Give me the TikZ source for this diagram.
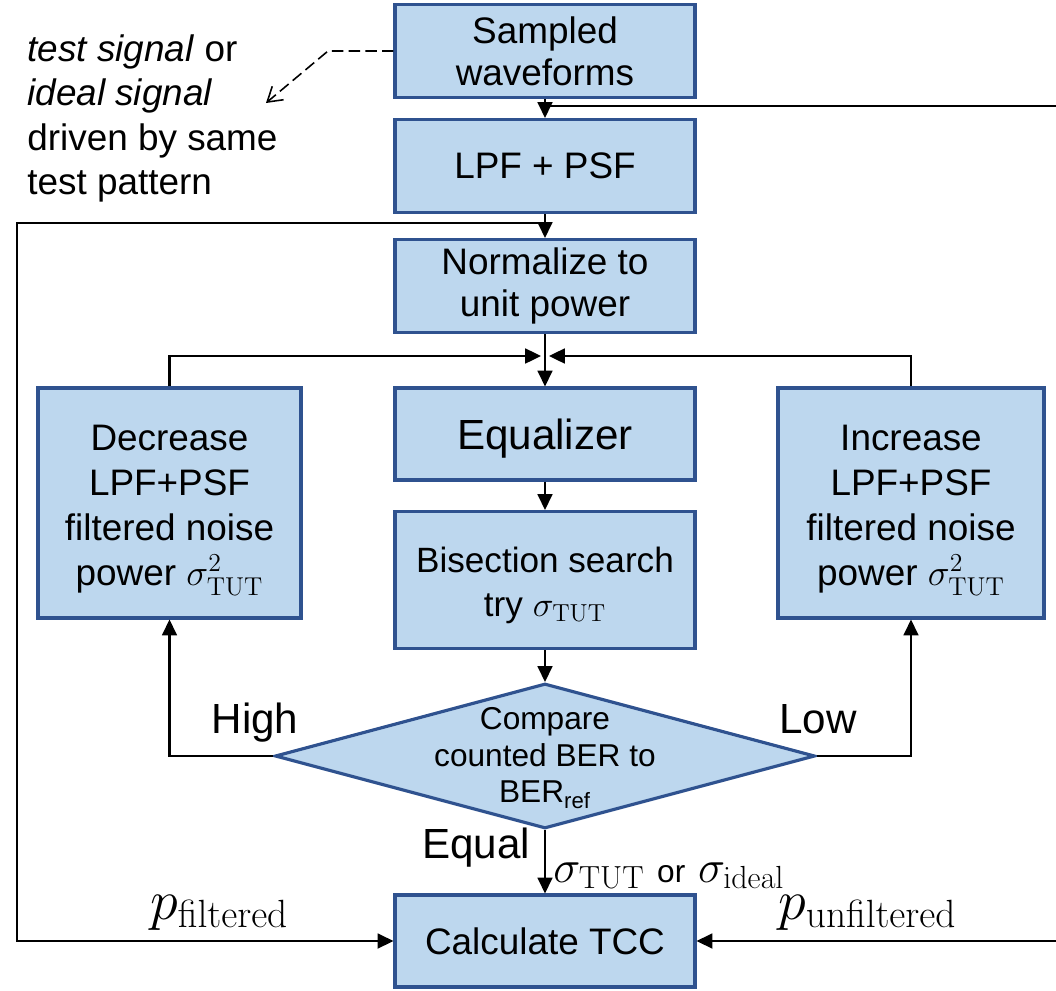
\RequirePackage{fix-cm}
\documentclass[tikz,border=0pt]{standalone}
\usepackage{amsmath}
\usepackage[no-math]{fontspec}
\setmainfont{Liberation Sans}
\usetikzlibrary{positioning,arrows.meta,shapes.geometric}
\definecolor{tccfill}{RGB}{189,215,238}
\definecolor{tccedge}{RGB}{47,82,143}

\begin{document}
\begin{tikzpicture}[x=0.02cm, y=-0.02cm,
  blk/.style={draw=tccedge, line width=1.8pt, fill=tccfill, minimum width=6cm, minimum height=1.86cm, align=center, inner sep=1pt, font=\fontsize{21}{24}\selectfont},
  conn/.style={line width=1.15pt, -{Triangle[length=9pt,width=8.5pt]}},
  lbl/.style={font=\fontsize{24}{28}\selectfont, inner sep=0pt}]
\useasboundingbox (0,0) rectangle (1056,991);

% Main column
\node[blk] (sampled) at (545,51) {Sampled\\waveforms};
\node[blk] (lpf) at (545,166) {LPF + PSF};
\node[blk] (norm) at (545,286) {Normalize to\\unit power};
\node[blk, minimum height=1.84cm, text height=24pt, text depth=5.8pt, font=\fontsize{24}{28}\selectfont] (eq) at (545,434) {Equalizer};
\node[blk, minimum height=2.74cm, font=\fontsize{20}{25}\selectfont] (bis) at (545,580) {\rule{0pt}{20.5pt}Bisection search\\try $\sigma_{\mathrm{TUT}}$};
\node[blk, diamond, aspect=3.7, minimum width=10.8cm, minimum height=2.9cm, inner sep=0pt, font=\fontsize{18}{21}\selectfont] (cmp) at (545,756)
  {\smash{\raisebox{-6pt}{\begin{tabular}{@{}c@{}}Compare\\counted BER to\\BER\textsubscript{ref}\end{tabular}}}};
\node[blk, minimum height=1.84cm] (tcc) at (545,941) {Calculate TCC};

% Side boxes
\node[blk, minimum width=5.26cm, minimum height=4.6cm, font=\fontsize{21}{25.5}\selectfont] (dec) at (169.5,503) {\rule{0pt}{23pt}Decrease\\LPF+PSF\\filtered noise\\power $\sigma^2_{\mathrm{TUT}}$};
\node[blk, minimum width=5.32cm, minimum height=4.6cm, font=\fontsize{21}{25.5}\selectfont] (inc) at (911,503) {\rule{0pt}{23pt}Increase\\LPF+PSF\\filtered noise\\power $\sigma^2_{\mathrm{TUT}}$};

% Note on the input
\node[anchor=north west, align=left, inner sep=0pt, font=\fontsize{21}{25.4}\selectfont] (note) at (27,34) {\textit{test signal} or\\\textit{ideal signal}\\driven by same\\test pattern};
\coordinate (bend) at (328,51);
\coordinate (notetip) at (266,103);
\draw[line width=0.9pt, dash pattern=on 6.5pt off 3pt, -{Straight Barb[length=8pt,width=10pt]}] (sampled.west) -- (bend) -- (notetip);

% Main path
\draw[conn] (sampled) -- (lpf);
\draw[conn] (lpf) -- (norm);
\draw[conn] (norm) -- (eq);
\draw[conn] (eq) -- (bis);
\draw[conn] (bis) -- (cmp);
\draw[conn] (cmp) -- (tcc);

% Feedback loop
\coordinate (merge) at (545,356);
\draw[conn] (dec.north) |- ([xshift=-0.08cm]merge);
\draw[conn] (inc.north) |- ([xshift=0.08cm]merge);
\draw[conn] (cmp.west) -| (dec.south);
\draw[conn] (cmp.east) -| (inc.south);

% Power taps to TCC
\coordinate (tapleft) at (545,223);
\coordinate (westrail) at (17,223);
\draw[conn] (tapleft) -- (westrail) |- (tcc.west);
\coordinate (taptop) at (545,106);
\coordinate (eastrail) at (1058,106);
\draw[conn] (taptop) -- (eastrail) |- (tcc.east);

% Labels
\node[lbl, anchor=base] (high) at (255,733) {High};
\node[lbl, anchor=base] (low) at (818,733) {Low};
\node[lbl, anchor=base] (equal) at (476,858) {Equal};
\node[inner sep=0pt, anchor=base west, font=\fontsize{26}{30}\selectfont] (sig) at (553,882) {$\sigma_{\mathrm{TUT}}$ {\fontsize{18}{20}\selectfont or} $\sigma_{\mathrm{ideal}}$};
\node[inner sep=0pt, anchor=base west, font=\fontsize{32}{36}\selectfont] (pfilt) at (150,919) {$p_{\mathrm{filtered}}$};
\node[inner sep=0pt, anchor=base west, font=\fontsize{32}{36}\selectfont] (punfilt) at (778,919) {$p_{\mathrm{unfiltered}}$};
\end{tikzpicture}
\end{document}
